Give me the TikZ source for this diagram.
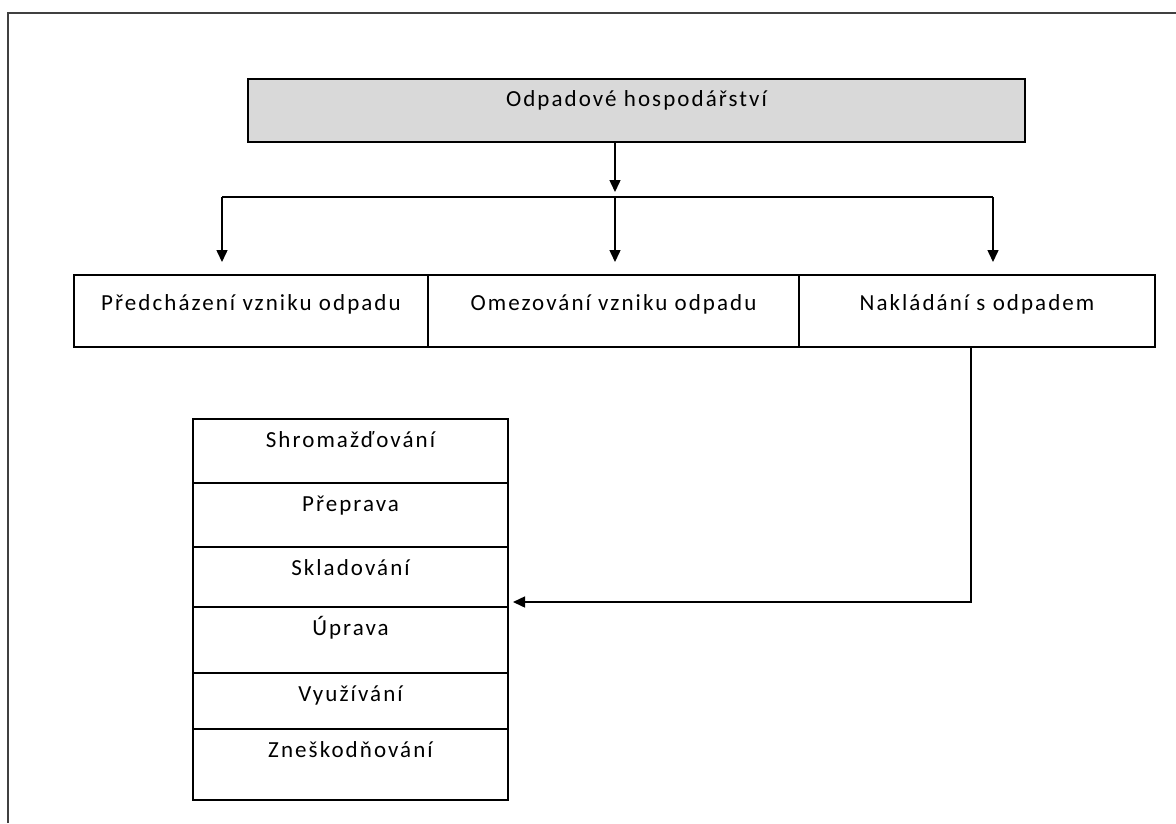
\documentclass[tikz,border=0pt]{standalone}
\usepackage{fontspec}
\setmainfont{Carlito}[LetterSpace=9]
\usetikzlibrary{arrows.meta, positioning, calc}
\definecolor{hdrfill}{HTML}{D9D9D9}
\definecolor{framegray}{HTML}{404040}
\tikzset{
  wbox/.style   = {draw=black, line width=1.3pt, inner xsep=0pt, inner ysep=0pt,
                   outer sep=0pt, align=center, font=\fontsize{23}{27}\selectfont},
  hdrbox/.style = {wbox, fill=hdrfill},
  rowbox/.style = {wbox, text height=35pt, text depth=37pt},
  listbox/.style = {wbox, minimum width=315pt, text height=28pt},
  flow/.style   = {-{Triangle[length=12pt,width=11pt]}, line width=1.5pt},
}

\begin{document}
\begin{tikzpicture}[x=1pt, y=-1pt]
  \useasboundingbox (0,0) rectangle (1176,823);
  % frame
  \draw[framegray, line width=2.5pt] (8,823) -- (8,13) -- (1176,13);

  % header
  \node[hdrbox, anchor=north west, minimum width=777pt, text height=27pt, text depth=36pt]
    (hosp) at (248,79) {Odpadové hospodářství};

  % row of three
  \node[rowbox, anchor=north west, minimum width=354pt] (predch) at (74,275) {Předcházení vzniku odpadu};
  \node[rowbox, minimum width=371pt, right=0pt of predch] (omez) {Omezování vzniku odpadu};
  \node[rowbox, minimum width=356pt, right=0pt of omez] (naklad) {Nakládání s odpadem};

  % list
  \node[listbox, anchor=north west, text depth=36pt] (shrom) at (193,419) {Shromažďování};
  \node[listbox, text depth=36pt, below=0pt of shrom] (preprava) {Přeprava};
  \node[listbox, text depth=32pt, below=0pt of preprava] (sklad) {Skladování};
  \node[listbox, text depth=38pt, below=0pt of sklad] (uprava) {Úprava};
  \node[listbox, text depth=28pt, below=0pt of uprava] (vyuz) {Využívání};
  \node[listbox, text depth=43pt, below=0pt of vyuz] (znesk) {Zneškodňování};

  % connectors
  \coordinate (fork) at (615,197);
  \coordinate (lcol) at (222,197);
  \coordinate (rcol) at (993,197);
  \coordinate (turn) at (971,602);
  \draw[flow, shorten >=5pt] (hosp.south -| fork) -- (fork);
  \draw[line width=1.5pt] (lcol) -- (rcol);
  \draw[flow, shorten >=13pt] (lcol) -- (lcol |- predch.north);
  \draw[flow, shorten >=13pt] (fork) -- (fork |- omez.north);
  \draw[flow, shorten >=13pt] (rcol) -- (rcol |- naklad.north);
  \draw[flow, shorten >=5pt] (turn |- naklad.south) -- (turn) -- (turn -| sklad.east);
\end{tikzpicture}
\end{document}
